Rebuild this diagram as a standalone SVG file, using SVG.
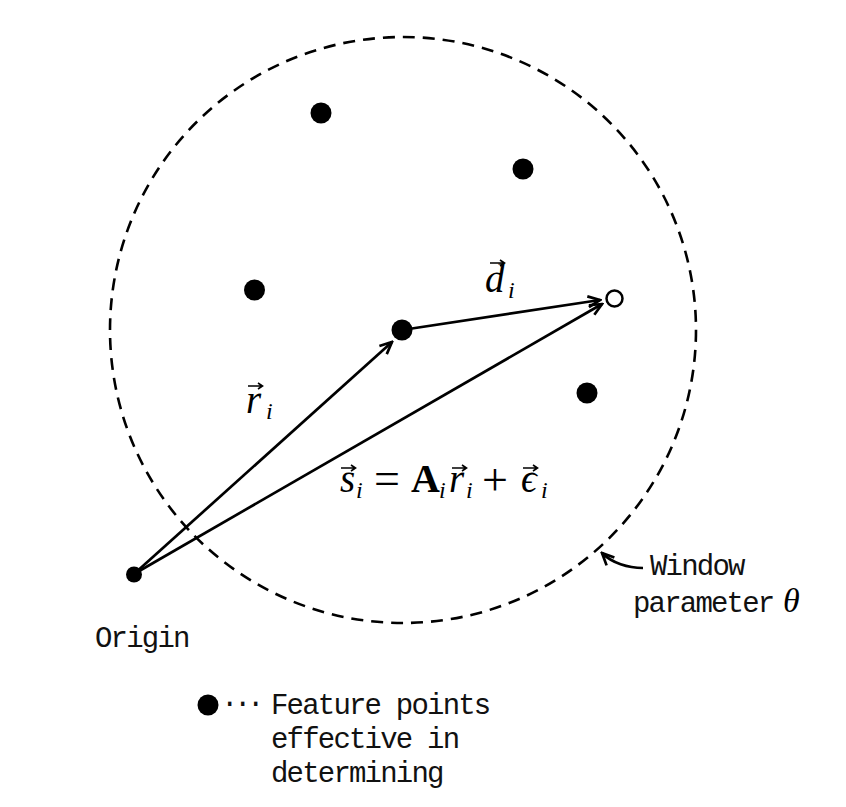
<svg xmlns="http://www.w3.org/2000/svg" xmlns:xlink="http://www.w3.org/1999/xlink" width="846" height="807" viewBox="0 0 846 807">
<style>
.mono{font-family:"Liberation Mono","DejaVu Sans Mono",monospace;font-size:29px;letter-spacing:-1.8px;fill:#111}
.math{font-family:"Liberation Serif","DejaVu Serif",serif;font-style:italic;font-size:39px;fill:#000}
.sub{font-family:"Liberation Serif","DejaVu Serif",serif;font-style:italic;font-size:24px;fill:#000}
.bold{font-style:normal;font-weight:bold;font-size:40px}
.op{font-style:normal;font-size:46px}
.line{fill:none;stroke:#000;stroke-width:2.7}
.dot{fill:#000}
.vec{fill:none;stroke:#000;stroke-width:1.6}
</style>
<defs>
<marker id="arr" viewBox="-14 -7 16 14" refX="0" refY="0" markerWidth="16" markerHeight="14" markerUnits="userSpaceOnUse" orient="auto">
<path d="M-12,-5.5 L0,0 L-12,5.5" fill="none" stroke="#000" stroke-width="2.7"/>
</marker>
<path id="vecarrow" d="M0,0 H14 M10,-3 L14.5,0 L10,3" class="vec"/>
</defs>
<rect width="846" height="807" fill="#fff"/>
<g id="window">
<circle cx="403" cy="330" r="293" fill="none" stroke="#000" stroke-width="2.6" stroke-dasharray="12 8"/>
</g>
<g id="connectors">
<line class="line" x1="134" y1="574" x2="392" y2="342" marker-end="url(#arr)"/>
<line class="line" x1="134" y1="574" x2="602" y2="304" marker-end="url(#arr)"/>
<line class="line" x1="402" y1="330" x2="600" y2="300" marker-end="url(#arr)"/>
<path class="line" d="M643,568 C628,568 612,563 602,553" marker-end="url(#arr)"/>
</g>
<g id="p1"><circle class="dot" cx="321" cy="113" r="10.5"/></g>
<g id="p2"><circle class="dot" cx="523" cy="169" r="10.5"/></g>
<g id="p3"><circle class="dot" cx="254.5" cy="290" r="10.5"/></g>
<g id="p4"><circle class="dot" cx="402" cy="330" r="10.5"/></g>
<g id="p5"><circle class="dot" cx="587" cy="393" r="10.5"/></g>
<g id="target"><circle cx="614.5" cy="298.5" r="8" fill="#fff" stroke="#000" stroke-width="2.5"/></g>
<g id="origin">
<circle class="dot" cx="134" cy="574.5" r="8"/>
<text class="mono" x="95" y="647">Origin</text>
</g>
<g id="label-d">
<text class="math" x="485" y="292">d</text>
<text class="sub" x="508" y="298">i</text>
<use xlink:href="#vecarrow" x="490" y="263"/>
</g>
<g id="label-r">
<text class="math" x="246" y="413">r</text>
<text class="sub" x="266" y="419">i</text>
<use xlink:href="#vecarrow" x="248" y="386"/>
</g>
<g id="label-s">
<text class="math" x="340" y="492">s</text>
<text class="sub" x="356" y="498">i</text>
<text class="math op" x="374" y="494">=</text>
<text class="math bold" x="411" y="492">A</text>
<text class="sub" x="439" y="498">i</text>
<text class="math" x="449" y="492">r</text>
<text class="sub" x="466" y="498">i</text>
<text class="math op" x="482" y="495">+</text>
<text class="math" x="521" y="492">ϵ</text>
<text class="sub" x="541" y="498">i</text>
<use xlink:href="#vecarrow" x="341" y="468"/>
<use xlink:href="#vecarrow" x="452" y="468"/>
<use xlink:href="#vecarrow" x="523" y="468"/>
</g>
<g id="window-label">
<text class="mono" x="650" y="575">Window</text>
<text class="mono" x="633" y="612">parameter</text>
<text class="math" x="783" y="612" style="font-size:34px">θ</text>
</g>
<g id="legend">
<circle class="dot" cx="208" cy="705" r="10.5"/>
<text class="mono" x="221" y="712" style="letter-spacing:-4.4px">···</text>
<text class="mono" x="271" y="714">Feature points</text>
<text class="mono" x="271" y="748">effective in</text>
<text class="mono" x="271" y="782">determining</text>
</g>
</svg>
